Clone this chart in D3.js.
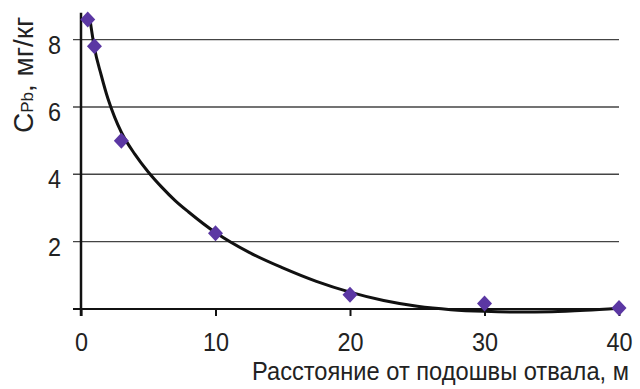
<!DOCTYPE html>
<head>
    <meta charset="utf-8">
    <script src="https://d3js.org/d3.v7.min.js"></script>
    <style>
        body { margin: 0; background: #fff; }
        svg { font-family: "Liberation Sans", Arial, sans-serif; }
    </style>
</head>
<body>
<svg id="svg" width="640" height="389"></svg>
<script>
    // measured points
    const distance = [0.5, 1, 3, 10, 20, 30, 40];
    const cPb = [8.6, 7.8, 5.0, 2.25, 0.42, 0.16, 0.03];

    // trend line
    const trendX = [0.65, 1.0, 1.5, 2.0, 2.5, 3.0, 4.0, 5.0, 6.0, 7.0, 8.0, 10, 12.5, 15, 17.5, 20, 22.5, 25, 27.5, 30, 32.5, 35, 37.5, 40];
    const trendY = [8.65, 7.75, 6.95, 6.25, 5.7, 5.25, 4.6, 4.07, 3.62, 3.22, 2.88, 2.27, 1.68, 1.22, 0.82, 0.5, 0.25, 0.08, -0.02, -0.07, -0.09, -0.08, -0.04, 0.02];

    const xTicks = [0, 10, 20, 30, 40];
    const yTicks = [2, 4, 6, 8];

    const svg = d3.select("#svg");
    const x = d3.scaleLinear().domain([0, 40]).range([81, 619]);
    const y = d3.scaleLinear().domain([0, 8.8]).range([309, 12.7]);

    // grid lines
    svg.append("g").selectAll("line")
        .data(yTicks).enter().append("line")
        .attr("x1", 73).attr("x2", x(40))
        .attr("y1", d => y(d)).attr("y2", d => y(d))
        .attr("stroke", "#444").attr("stroke-width", 1.4);

    // y tick labels
    svg.append("g").selectAll("text")
        .data(yTicks).enter().append("text")
        .attr("transform", d => "translate(61," + (y(d) + 14) + ") scale(0.9,1)")
        .attr("text-anchor", "end")
        .attr("font-size", 26).attr("fill", "#222")
        .text(d => d);

    // x axis
    const xAxis = svg.append("g").attr("transform", "translate(0," + y(0) + ")")
        .call(d3.axisBottom(x).tickValues(xTicks).tickSize(7).tickSizeOuter(0));
    xAxis.select(".domain").attr("d", "M73,0H" + x(40)).attr("stroke", "#111").attr("stroke-width", 2);
    xAxis.selectAll(".tick line").attr("stroke", "#111").attr("stroke-width", 2);
    xAxis.selectAll(".tick text").attr("font-size", 26).attr("fill", "#222")
        .attr("font-family", "Liberation Sans, Arial, sans-serif")
        .attr("y", 0).attr("dy", null)
        .attr("transform", "translate(0,42) scale(0.9,1)");

    // y axis line
    svg.append("line")
        .attr("x1", x(0)).attr("x2", x(0))
        .attr("y1", y(8.8)).attr("y2", y(0) + 7)
        .attr("stroke", "#111").attr("stroke-width", 2.5);

    // trend
    const trend = trendX.map((d, i) => [d, trendY[i]]);
    svg.append("path")
        .datum(trend)
        .attr("fill", "none").attr("stroke", "#111").attr("stroke-width", 3)
        .attr("d", d3.line().x(d => x(d[0])).y(d => y(d[1])).curve(d3.curveMonotoneX));

    // markers
    svg.append("g").selectAll("path")
        .data(distance).enter().append("path")
        .attr("transform", (d, i) => "translate(" + x(d) + "," + y(cPb[i]) + ")")
        .attr("d", "M0,-8L7.5,0L0,8L-7.5,0Z")
        .attr("fill", "#5B37A3");

    // x title, squeezed to the width seen in the picture
    const xt = svg.append("text")
        .attr("font-size", 25).attr("fill", "#222")
        .text("Расстояние от подошвы отвала, м");
    const k = 377 / xt.node().getComputedTextLength();
    xt.attr("transform", "translate(252,380) scale(" + k + ",1)");

    // y title
    const yt = svg.append("text")
        .attr("transform", "translate(33,133) rotate(-90)")
        .attr("font-size", 28).attr("fill", "#222");
    yt.append("tspan").text("C");
    yt.append("tspan").attr("font-size", 17).text("Pb");
    yt.append("tspan").text(", мг/кг");
</script>
</body>
